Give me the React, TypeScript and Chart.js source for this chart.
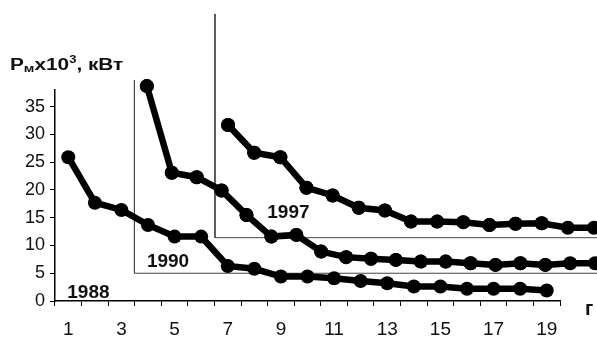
import React, { useEffect, useRef } from "react";
import { Chart, registerables } from "chart.js";

Chart.register(...registerables);

// Main (1988) axis categories, 1..19
const categories = ["1", "2", "3", "4", "5", "6", "7", "8", "9", "10", "11", "12", "13", "14", "15", "16", "17", "18", "19"];
const values1988 = [25.9, 17.7, 16.4, 13.7, 11.6, 11.6, 6.3, 5.8, 4.4, 4.4, 4.1, 3.6, 3.2, 2.6, 2.6, 2.2, 2.2, 2.2, 1.9];

// 1990 series on its own (shifted) axis
const steps1990 = [1, 2, 3, 4, 5, 6, 7, 8, 9, 10, 11, 12, 13, 14, 15, 16, 17, 18, 19];
const values1990 = [38.7, 23.1, 22.3, 19.9, 15.5, 11.6, 11.9, 8.9, 7.9, 7.6, 7.4, 7.1, 7.1, 6.8, 6.5, 6.8, 6.5, 6.8, 6.8];

// 1997 series on its own (shifted) axis
const steps1997 = [1, 2, 3, 4, 5, 6, 7, 8, 9, 10, 11, 12, 13, 14, 15];
const values1997 = [31.7, 26.7, 25.9, 20.4, 19.0, 16.8, 16.3, 14.3, 14.3, 14.2, 13.7, 13.9, 14.0, 13.2, 13.2];

// Frames of the shifted sub-axes (value coordinates)
const frame1990X = [0.5, 0.5, 25];
const frame1990Y = [39.8, 5, 5];
const frame1997X = [0.5, 0.5, 25];
const frame1997Y = [51.7, 11.4, 11.4];

const yTicks = [0, 5, 10, 15, 20, 25, 30, 35];
const yearLabels = ["1988", "1990", "1997"];
const yTitle = ["P", "м", "x10", "3", ", кВт"];
const xUnit = "г";

const FONT = "'Liberation Sans', Arial, sans-serif";

const toPoints = (xs: number[], ys: number[]) => xs.map((x, i) => ({ x, y: ys[i] }));

// draws the markers that fall outside the chart area (the shifted series run past the main axis)
const outerPointsPlugin = {
  id: "outerPoints",
  afterDatasetsDraw(chart: any) {
    const ctx = chart.ctx;
    const full = { left: 0, top: 0, right: chart.width, bottom: chart.height };
    [1, 2].forEach((di) => {
      const meta = chart.getDatasetMeta(di);
      meta.data.forEach((el: any) => el.draw(ctx, full));
    });
  },
};

const textPlugin = {
  id: "textPlugin",
  afterDraw(chart: any) {
    const ctx = chart.ctx as CanvasRenderingContext2D;
    const sx = chart.scales.x;
    const sy = chart.scales.y;
    const s2 = chart.scales.x2;
    const s3 = chart.scales.x3;
    ctx.save();
    ctx.fillStyle = "#111";
    ctx.textBaseline = "alphabetic";
    ctx.textAlign = "left";
    ctx.font = `bold 19px ${FONT}`;
    ctx.fillText(yearLabels[0], sx.getPixelForValue(0) - 1, sy.getPixelForValue(0.5));
    ctx.fillText(yearLabels[1], s2.getPixelForValue(1), sy.getPixelForValue(6.1));
    ctx.fillText(yearLabels[2], s3.getPixelForValue(2.5), sy.getPixelForValue(15));

    // unit of x axis
    ctx.font = `bold 20px ${FONT}`;
    ctx.fillText(xUnit, sx.right + 25, sy.getPixelForValue(-2.5));

    // y axis title with subscript and superscript
    ctx.translate(10, 70);
    ctx.scale(1.3, 1);
    let x = 0;
    const part = (t: string, size: number, dy: number) => {
      ctx.font = `bold ${size}px ${FONT}`;
      ctx.fillText(t, x, dy);
      x += ctx.measureText(t).width;
    };
    part(yTitle[0], 16, 0);
    part(yTitle[1], 11, 2);
    part(yTitle[2], 16, 0);
    part(yTitle[3], 10, -7);
    part(yTitle[4], 16, 0);
    ctx.restore();
  },
};

export default function App() {
  const ref = useRef<HTMLCanvasElement>(null);

  useEffect(() => {
    document.body.style.margin = "0";
    const canvas = ref.current;
    if (!canvas) return;
    const seriesStyle = {
      borderColor: "#000",
      backgroundColor: "#000",
      borderWidth: 6.5,
      pointRadius: 7,
      pointBorderWidth: 0,
      pointBackgroundColor: "#000",
      tension: 0,
      clip: false as const,
      order: 1,
    };
    const frameStyle = {
      borderColor: "#444",
      borderWidth: 1,
      pointRadius: 0,
      tension: 0,
      clip: false as const,
      order: 10,
    };
    const chart = new Chart(canvas, {
      type: "line",
      data: {
        labels: categories,
        datasets: [
          { label: yearLabels[0], data: values1988, xAxisID: "x", ...seriesStyle },
          { label: yearLabels[1], data: toPoints(steps1990, values1990), xAxisID: "x2", ...seriesStyle },
          { label: yearLabels[2], data: toPoints(steps1997, values1997), xAxisID: "x3", ...seriesStyle },
          { label: "f1990", data: toPoints(frame1990X, frame1990Y), xAxisID: "x2", ...frameStyle },
          { label: "f1997", data: toPoints(frame1997X, frame1997Y), xAxisID: "x3", ...frameStyle },
        ] as any,
      },
      options: {
        animation: false,
        responsive: false,
        layout: { padding: { top: 90, right: 37, left: 0, bottom: 0 } },
        plugins: { legend: { display: false }, tooltip: { enabled: false }, title: { display: false } },
        events: [],
        scales: {
          x: {
            type: "category",
            offset: true,
            grid: { offset: true, drawOnChartArea: false, drawTicks: true, tickLength: 5, color: "#000", lineWidth: 1 },
            border: { color: "#000", width: 1.5 },
            ticks: {
              autoSkip: false,
              maxRotation: 0,
              padding: 12,
              color: "#111",
              font: { family: FONT, size: 19 },
              callback: (_v: any, i: number) => (i % 2 === 0 ? categories[i] : ""),
            },
            afterFit: (s: any) => {
              s.height = 37;
            },
          },
          x2: {
            type: "linear",
            display: false,
            bounds: "data",
            grace: 0,
            afterDataLimits: (s: any) => {
              s.min = -2.69;
              s.max = 17.59;
            },
          },
          x3: {
            type: "linear",
            display: false,
            bounds: "data",
            grace: 0,
            afterDataLimits: (s: any) => {
              s.min = -5.62;
              s.max = 13.7;
            },
          },
          y: {
            type: "linear",
            min: 0,
            max: 38,
            grid: { drawOnChartArea: false, drawTicks: true, tickLength: 5, color: "#000", lineWidth: 1 },
            border: { color: "#000", width: 1.5 },
            ticks: {
              stepSize: 5,
              includeBounds: false,
              padding: 5,
              color: "#111",
              font: { family: FONT, size: 18 },
              callback: (v: any) => (yTicks.includes(Number(v)) ? String(v) : ""),
            },
            afterFit: (s: any) => {
              s.width = 55;
            },
          },
        },
      } as any,
      plugins: [outerPointsPlugin, textPlugin],
    });
    return () => chart.destroy();
  }, []);

  return (
    <div style={{ width: 597, height: 338, background: "#fff" }}>
      <canvas ref={ref} width={597} height={338} style={{ display: "block" }} />
    </div>
  );
}
